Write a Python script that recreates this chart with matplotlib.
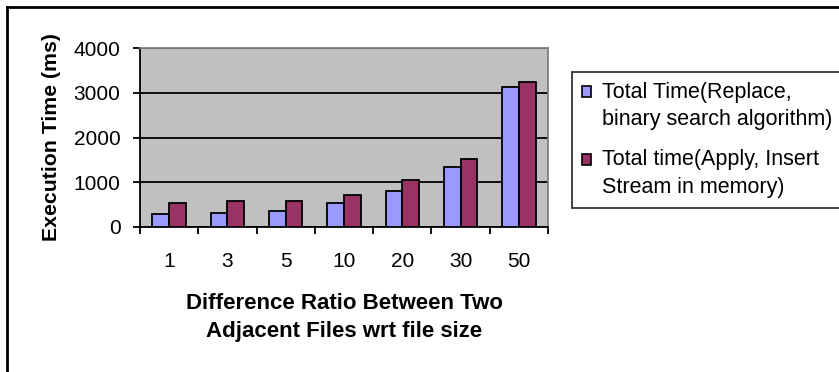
import matplotlib
matplotlib.use('Agg')
import matplotlib.pyplot as plt
from matplotlib.patches import Patch, Rectangle
from matplotlib.legend_handler import HandlerPatch
from matplotlib.lines import Line2D
import numpy as np

plt.rcParams['font.family'] = ['Liberation Sans', 'DejaVu Sans']

ratios = ['1', '3', '5', '10', '20', '30', '50']
replace_ms = [280, 310, 360, 540, 810, 1350, 3130]
apply_ms = [540, 590, 590, 720, 1040, 1530, 3230]
labels = ['Total Time(Replace,\nbinary search algorithm)',
          'Total time(Apply, Insert\nStream in memory)']
colors = ['#9999FF', '#993366']


# legend key sits next to the first line of a two-line label
class TopPatch(HandlerPatch):
    def create_artists(self, legend, orig_handle, xdescent, ydescent, width, height, fontsize, trans):
        p = Rectangle((-xdescent, -ydescent + 0.68 * fontsize), width, height,
                      facecolor=orig_handle.get_facecolor(), edgecolor='black',
                      linewidth=1.2, transform=trans)
        return [p]


fig = plt.figure(figsize=(8.39, 3.72), dpi=100)
ax = fig.add_axes([140 / 839, 1 - 227 / 372, 408 / 839, 179 / 372])
ax.set_facecolor('#C0C0C0')

x = np.arange(len(ratios))
w = 1 / 3.5
ax.bar(x - w / 2, replace_ms, w, color=colors[0], edgecolor='black', linewidth=1.3, zorder=3)
ax.bar(x + w / 2, apply_ms, w, color=colors[1], edgecolor='black', linewidth=1.3, zorder=3)

ax.set_xlim(-0.5, len(ratios) - 0.5)
ax.set_ylim(0, 4000)
ax.set_yticks([0, 1000, 2000, 3000, 4000])
ax.yaxis.grid(True, color='black', linewidth=1.3, zorder=1)
ax.set_axisbelow(True)

# labels in the middle of each category, tick marks on the boundaries
ax.set_xticks(x)
ax.set_xticklabels(ratios)
ax.set_xticks(np.arange(-0.5, len(ratios)), minor=True)
ax.tick_params(axis='x', which='major', length=0, pad=18, labelsize=15)
ax.tick_params(axis='x', which='minor', length=5, width=1.3, direction='out')
ax.tick_params(axis='y', length=5, width=1.3, pad=9, labelsize=15)

for side in ['left', 'bottom']:
    ax.spines[side].set_color('black')
    ax.spines[side].set_linewidth(1.3)
for side in ['top', 'right']:
    ax.spines[side].set_color('#808080')
    ax.spines[side].set_linewidth(1.3)

ax.set_ylabel('Execution Time (ms)', fontsize=15.3, fontweight='bold', labelpad=9)
ax.set_xlabel('Difference Ratio Between Two\nAdjacent Files wrt file size',
              fontsize=16, fontweight='bold', labelpad=16, linespacing=1.4)

handles = [Patch(facecolor=c, edgecolor='black') for c in colors]
leg = fig.legend(handles, labels, loc='upper left', bbox_to_anchor=(572 / 839, 1 - 72 / 372),
                 fontsize=15.5, frameon=True, fancybox=False, handlelength=0.45, handleheight=0.45,
                 handletextpad=0.5, borderpad=0.45, labelspacing=0.9, borderaxespad=0,
                 handler_map={Patch: TopPatch()})
for t in leg.get_texts():
    t.set_linespacing(1.4)
leg.get_frame().set_edgecolor('black')
leg.get_frame().set_linewidth(1.3)

# outer chart border (left and top edges visible)
fig.add_artist(Line2D([7 / 839, 7 / 839], [0, 1 - 7 / 372], color='black', linewidth=2,
                      transform=fig.transFigure))
fig.add_artist(Line2D([7 / 839, 1], [1 - 7 / 372, 1 - 7 / 372], color='black', linewidth=2,
                      transform=fig.transFigure))

fig.savefig('out.png', dpi=100)
